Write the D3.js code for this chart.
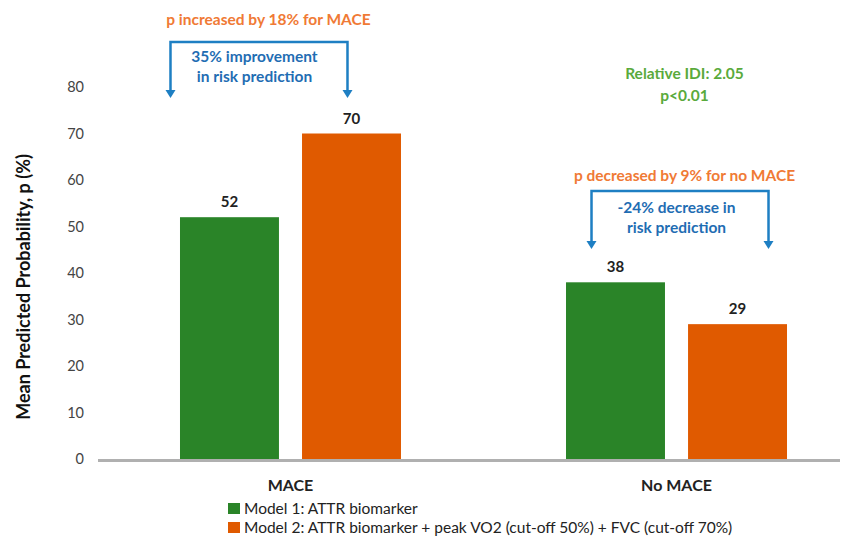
<!DOCTYPE html>
<html>
<head>
<meta charset="utf-8">
<script src="https://cdn.jsdelivr.net/npm/d3@7"></script>
<style>
  body { margin: 0; background: #fff; }
  svg { font-family: Lato, "Open Sans", sans-serif; }
</style>
</head>
<body>
<div id="chart"></div>
<script>
// chart data
const categories = ["MACE", "No MACE"];
const seriesNames = ["Model 1: ATTR biomarker",
  "Model 2: ATTR biomarker + peak VO2 (cut-off 50%) + FVC (cut-off 70%)"];
const model1 = [52, 38];
const model2 = [70, 29];
const yTicks = [0, 10, 20, 30, 40, 50, 60, 70, 80];
const colors = ["#2a8428", "#e05a00"];

const width = 852, height = 536;

const svg = d3.select("#chart").append("svg")
  .attr("width", width)
  .attr("height", height);

// scales
const y = d3.scaleLinear().domain([0, 80]).range([459, 87]);
const x0 = d3.scaleBand().domain(categories).range([97.5, 869.5]).paddingInner(0.4275).paddingOuter(0.2137);
const x1 = d3.scaleBand().domain([0, 1]).range([0, x0.bandwidth()]).paddingInner(0.189);

// y axis (labels only)
const yAxis = svg.append("g")
  .attr("transform", "translate(84,0)")
  .call(d3.axisLeft(y).tickValues(yTicks).tickSize(0).tickPadding(0));
yAxis.select(".domain").remove();
yAxis.selectAll("text")
  .attr("fill", "#444")
  .style("font-size", "14.5px")
  .style("font-family", "Lato, sans-serif");

// bars
const rows = categories.map((c, i) => ({ cat: c, vals: [model1[i], model2[i]] }));
const groups = svg.selectAll(".grp").data(rows).enter().append("g")
  .attr("transform", d => `translate(${x0(d.cat)},0)`);

groups.selectAll("rect").data(d => d.vals).enter().append("rect")
  .attr("x", (d, i) => x1(i))
  .attr("width", x1.bandwidth())
  .attr("y", d => y(d))
  .attr("height", d => y(0) - y(d))
  .attr("fill", (d, i) => colors[i]);

groups.selectAll(".val").data(d => d.vals).enter().append("text")
  .attr("x", (d, i) => x1(i) + x1.bandwidth() / 2)
  .attr("y", d => y(d) - 10)
  .attr("text-anchor", "middle")
  .style("font-size", "15px")
  .style("font-weight", "bold")
  .attr("fill", "#222")
  .text(d => d);

// baseline
svg.append("line")
  .attr("x1", 98).attr("x2", 840)
  .attr("y1", y(0) + 1.5).attr("y2", y(0) + 1.5)
  .attr("stroke", "#b0b0b0").attr("stroke-width", 3);

// category labels
svg.selectAll(".cat").data(categories).enter().append("text")
  .attr("x", d => x0(d) + x0.bandwidth() / 2)
  .attr("y", 491)
  .attr("text-anchor", "middle")
  .style("font-size", "16px")
  .style("font-weight", "bold")
  .attr("fill", "#222")
  .text(d => d);

// y title
svg.append("text")
  .attr("transform", "translate(30,287) rotate(-90)")
  .attr("text-anchor", "middle")
  .style("font-size", "18px")
  .style("font-weight", "bold")
  .attr("fill", "#111")
  .text("Mean Predicted Probability, p (%)");

// legend
const legend = svg.selectAll(".leg").data(seriesNames).enter().append("g")
  .attr("transform", (d, i) => `translate(228,${508 + i * 19})`);
legend.append("rect").attr("x", 0).attr("y", -5).attr("width", 12).attr("height", 11)
  .attr("fill", (d, i) => colors[i]);
legend.append("text").attr("x", 16).attr("y", 5.5)
  .style("font-size", "15.5px").attr("fill", "#222")
  .text(d => d);

// annotations
const blue = "#1e7fc3";

function bracket(xl, xr, yTop, yBot) {
  svg.append("path")
    .attr("d", `M${xl},${yBot - 6} L${xl},${yTop} L${xr},${yTop} L${xr},${yBot - 6}`)
    .attr("fill", "none").attr("stroke", blue).attr("stroke-width", 2.5);
  [xl, xr].forEach(xx => {
    svg.append("path")
      .attr("d", `M${xx - 5},${yBot - 8} L${xx + 5},${yBot - 8} L${xx},${yBot} Z`)
      .attr("fill", blue);
  });
}

function label(txt, xx, yy, color, size) {
  svg.append("text").attr("x", xx).attr("y", yy)
    .attr("text-anchor", "middle")
    .style("font-size", size + "px")
    .style("font-weight", "bold")
    .attr("fill", color).text(txt);
}

const cM = x0("MACE") + x0.bandwidth() / 2;
const cN = x0("No MACE") + x0.bandwidth() / 2;

label("p increased by 18% for MACE", cM - 22, 25, "#f07a35", 15.5);
bracket(cM - 120, cM + 57, 42, 98);
label("35% improvement", cM - 36, 62, "#1f6db3", 15.5);
label("in risk prediction", cM - 36, 82, "#1f6db3", 15.5);

label("Relative IDI: 2.05", cN + 8, 79, "#5aaa3c", 15.5);
label("p<0.01", cN + 8, 101, "#5aaa3c", 15.5);

label("p decreased by 9% for no MACE", cN + 8, 181, "#f07a35", 15.5);
bracket(cN - 85, cN + 92, 191, 249);
label("-24% decrease in", cN, 213, "#1f6db3", 15.5);
label("risk prediction", cN, 233, "#1f6db3", 15.5);
</script>
</body>
</html>
